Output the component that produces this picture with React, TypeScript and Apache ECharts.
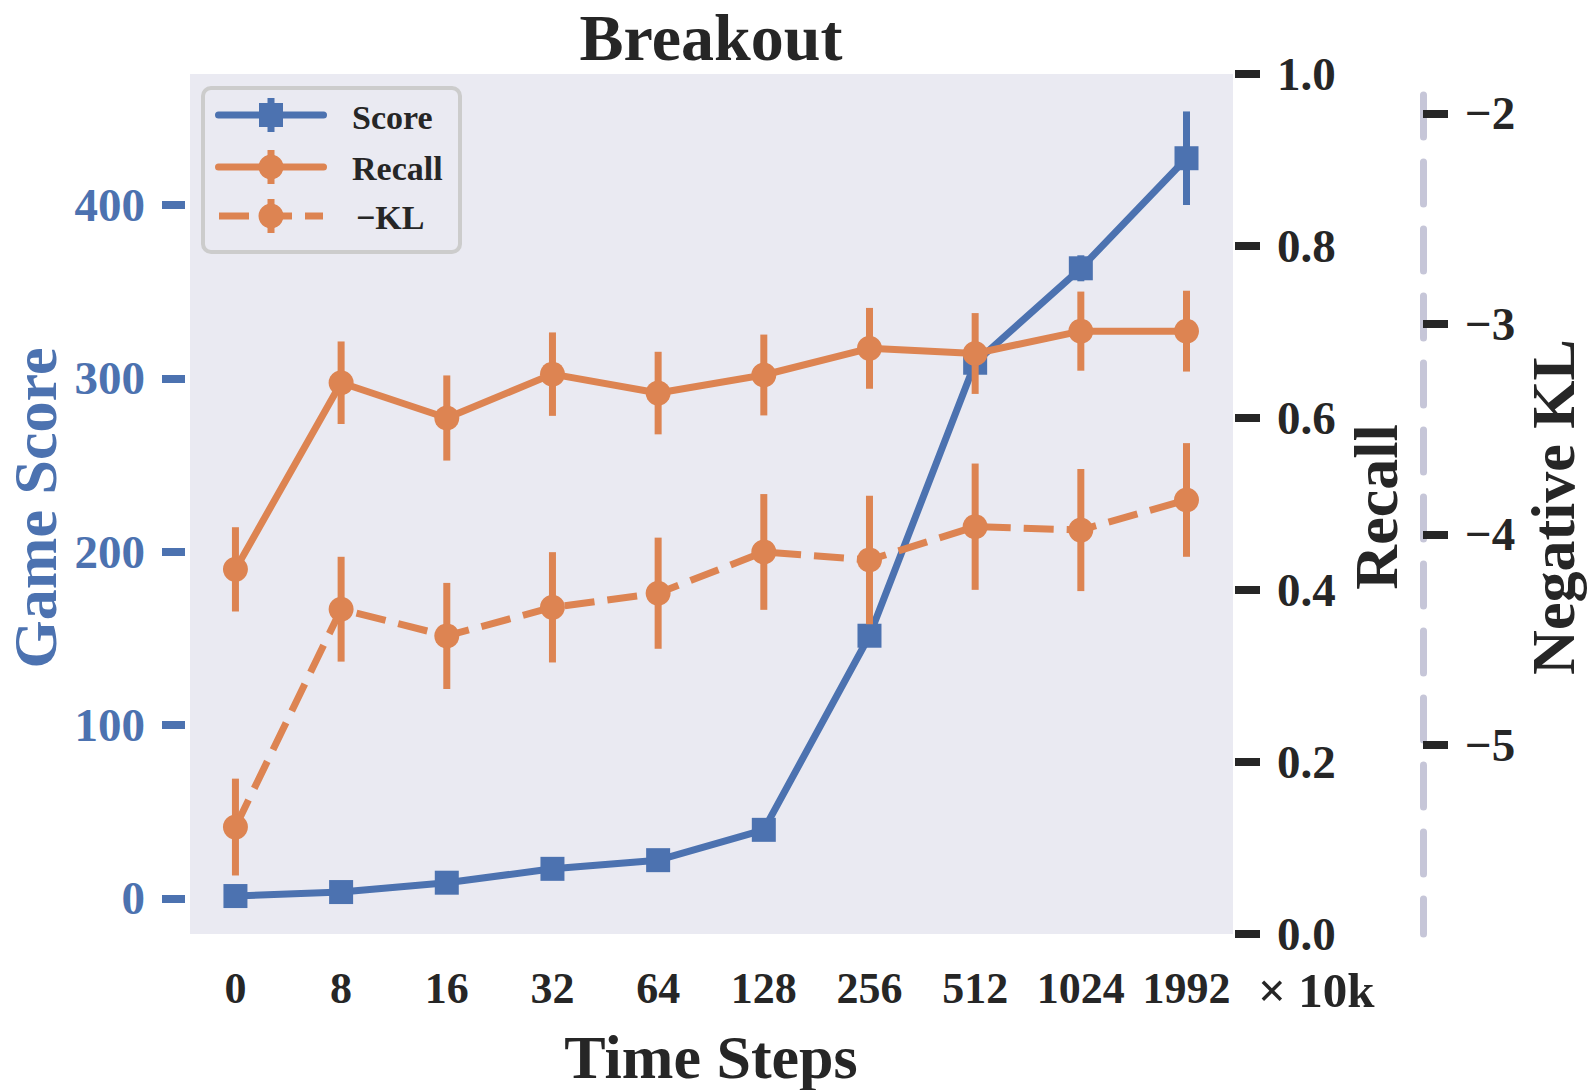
import React, { useEffect, useRef } from 'react';
import * as echarts from 'echarts';

const steps = ['0', '8', '16', '32', '64', '128', '256', '512', '1024', '1992'];
const score = [1.3, 3.6, 9.0, 17.0, 22.0, 39.5, 151.5, 309.0, 363.5, 427.0];
const scoreErr = [1, 1, 1.5, 2, 2, 3, 4, 6, 7.5, 27];
const recall = [0.424, 0.641, 0.6, 0.651, 0.629, 0.65, 0.681, 0.675, 0.701, 0.701];
const recallErr = [0.049, 0.048, 0.0495, 0.0485, 0.048, 0.047, 0.047, 0.047, 0.046, 0.047];
const negKL = [-5.39, -4.355, -4.482, -4.346, -4.279, -4.083, -4.121, -3.963, -3.979, -3.836];
const negKLErr = [0.23, 0.249, 0.252, 0.262, 0.264, 0.275, 0.305, 0.3, 0.29, 0.27];
const scoreTicks = [0, 100, 200, 300, 400];
const klTicks = [-5, -4, -3, -2];
const legendNames = ['Score', 'Recall', '\u2212KL'];

const BLUE = '#4C72B0';
const ORANGE = '#DD8452';
const DARK = '#262626';
const FONT = '"Liberation Serif", "Times New Roman", serif';

function errSeries(vals: number[], errs: number[], yAxisIndex: number, color: string, z: number) {
  return {
    type: 'custom',
    yAxisIndex,
    z,
    silent: true,
    data: vals.map((v, i) => [i, v - errs[i], v + errs[i]]),
    encode: { x: 0, y: [1, 2] },
    renderItem: (params: any, api: any) => {
      const x = api.value(0);
      const p1 = api.coord([x, api.value(1)]);
      const p2 = api.coord([x, api.value(2)]);
      return {
        type: 'line',
        shape: { x1: p1[0], y1: p1[1], x2: p2[0], y2: p2[1] },
        style: { stroke: color, lineWidth: 7, lineCap: 'butt' },
      };
    },
  };
}

function text(t: string, x: number, y: number, size: number, opts: any = {}) {
  return {
    type: 'text',
    x,
    y,
    rotation: opts.rotation || 0,
    z: 100,
    style: {
      text: t,
      fill: opts.fill || DARK,
      font: `bold ${size}px ${FONT}`,
      align: opts.align || 'center',
      verticalAlign: 'middle',
    },
  };
}

export default function App() {
  const ref = useRef<HTMLDivElement>(null);
  useEffect(() => {
    document.body.style.margin = '0';
    const chart = echarts.init(ref.current!, null, { renderer: 'svg' });
    const labelBase = { fontFamily: FONT, fontWeight: 'bold', color: DARK };
    const legendRows = [115, 167, 216];
    const legendGraphics: any[] = [
      {
        type: 'rect',
        shape: { x: 203, y: 88, width: 257, height: 164, r: 8 },
        style: { fill: '#EAEAF2', stroke: '#CCCCCC', lineWidth: 4 },
        z: 90,
      },
      // Score
      { type: 'line', shape: { x1: 218.5, y1: legendRows[0], x2: 323.5, y2: legendRows[0] }, style: { stroke: BLUE, lineWidth: 7, lineCap: 'round' }, z: 91 },
      { type: 'line', shape: { x1: 271, y1: legendRows[0] - 17, x2: 271, y2: legendRows[0] + 17 }, style: { stroke: BLUE, lineWidth: 7 }, z: 91 },
      { type: 'rect', shape: { x: 259, y: legendRows[0] - 12, width: 24, height: 24 }, style: { fill: BLUE }, z: 92 },
      // Recall
      { type: 'line', shape: { x1: 218.5, y1: legendRows[1], x2: 323.5, y2: legendRows[1] }, style: { stroke: ORANGE, lineWidth: 7, lineCap: 'round' }, z: 91 },
      { type: 'line', shape: { x1: 271, y1: legendRows[1] - 17, x2: 271, y2: legendRows[1] + 17 }, style: { stroke: ORANGE, lineWidth: 7 }, z: 91 },
      { type: 'circle', shape: { cx: 271, cy: legendRows[1], r: 12.5 }, style: { fill: ORANGE }, z: 92 },
      // -KL
      { type: 'line', shape: { x1: 219, y1: legendRows[2], x2: 323, y2: legendRows[2] }, style: { stroke: ORANGE, lineWidth: 7, lineDash: [30, 13], lineCap: 'butt' }, z: 91 },
      { type: 'line', shape: { x1: 271, y1: legendRows[2] - 17, x2: 271, y2: legendRows[2] + 17 }, style: { stroke: ORANGE, lineWidth: 7 }, z: 91 },
      { type: 'circle', shape: { cx: 271, cy: legendRows[2], r: 12.5 }, style: { fill: ORANGE }, z: 92 },
      text(legendNames[0], 352, legendRows[0] + 2, 34, { align: 'left' }),
      text(legendNames[1], 352, legendRows[1] + 1, 34, { align: 'left' }),
      text(legendNames[2], 356, legendRows[2] + 1, 34, { align: 'left' }),
    ];
    const option: any = {
      animation: false,
      grid: { left: 190, right: 357, top: 74, bottom: 156, show: true, backgroundColor: '#EAEAF2', borderWidth: 0 },
      xAxis: {
        type: 'value',
        min: -0.43,
        max: 9.44,
        axisLine: { show: false, onZero: false },
        axisTick: { show: false },
        splitLine: { show: false },
        axisLabel: {
          ...labelBase,
          customValues: steps.map((_, i) => i),
          formatter: (v: number) => steps[Math.round(v)],
          fontSize: 44,
          margin: 32,
        },
      },
      yAxis: [
        {
          type: 'value',
          position: 'left',
          min: -20.6,
          max: 475.6,
          offset: 5,
          axisLine: { show: false, onZero: false },
          splitLine: { show: false },
          axisTick: { show: true, inside: false, customValues: scoreTicks, length: 23, lineStyle: { color: BLUE, width: 8 } },
          axisLabel: { ...labelBase, color: BLUE, customValues: scoreTicks, fontSize: 47, margin: 40 },
        },
        {
          type: 'value',
          position: 'right',
          min: 0,
          max: 1,
          interval: 0.2,
          offset: 2,
          axisLine: { show: false, onZero: false },
          splitLine: { show: false },
          axisTick: { show: true, inside: false, length: 25, lineStyle: { color: DARK, width: 8 } },
          axisLabel: { ...labelBase, fontSize: 47, margin: 42, formatter: (v: number) => v.toFixed(1) },
        },
        {
          type: 'value',
          position: 'right',
          min: -5.898,
          max: -1.8124,
          offset: 190,
          axisLine: { show: true, onZero: false, lineStyle: { color: '#C6C6D8', width: 7, type: [42, 25], dashOffset: 7 } },
          splitLine: { show: false },
          axisTick: { show: true, inside: false, customValues: klTicks, length: 25, lineStyle: { color: DARK, width: 8 } },
          axisLabel: {
            ...labelBase,
            customValues: klTicks,
            fontSize: 47,
            margin: 42,
            formatter: (v: number) => '\u2212' + Math.abs(Math.round(v)),
          },
        },
      ],
      series: [
        errSeries(score, scoreErr, 0, BLUE, 1),
        {
          type: 'line',
          name: legendNames[0],
          yAxisIndex: 0,
          z: 2,
          data: score.map((v, i) => [i, v]),
          symbol: 'rect',
          symbolSize: 24,
          showSymbol: true,
          silent: true,
          lineStyle: { color: BLUE, width: 7 },
          itemStyle: { color: BLUE },
        },
        errSeries(recall, recallErr, 1, ORANGE, 3),
        {
          type: 'line',
          name: legendNames[1],
          yAxisIndex: 1,
          z: 4,
          data: recall.map((v, i) => [i, v]),
          symbol: 'circle',
          symbolSize: 25,
          showSymbol: true,
          silent: true,
          lineStyle: { color: ORANGE, width: 7 },
          itemStyle: { color: ORANGE },
        },
        errSeries(negKL, negKLErr, 2, ORANGE, 5),
        {
          type: 'line',
          name: legendNames[2],
          yAxisIndex: 2,
          z: 6,
          data: negKL.map((v, i) => [i, v]),
          symbol: 'circle',
          symbolSize: 25,
          showSymbol: true,
          silent: true,
          lineStyle: { color: ORANGE, width: 7, type: [30, 13], cap: 'butt' },
          itemStyle: { color: ORANGE },
        },
      ],
      graphic: [
        text('Breakout', 711, 37, 66),
        text('Time Steps', 711, 1057, 62),
        text('\u00d7 10k', 1258, 990, 49, { align: 'left' }),
        text('Game Score', 35, 508, 62, { rotation: Math.PI / 2, fill: BLUE }),
        text('Recall', 1376, 507, 62, { rotation: Math.PI / 2 }),
        text('Negative KL', 1553, 507, 62, { rotation: Math.PI / 2 }),
        ...legendGraphics,
      ],
    };
    chart.setOption(option);
    return () => chart.dispose();
  }, []);
  return <div ref={ref} style={{ width: 1590, height: 1090 }} />;
}
